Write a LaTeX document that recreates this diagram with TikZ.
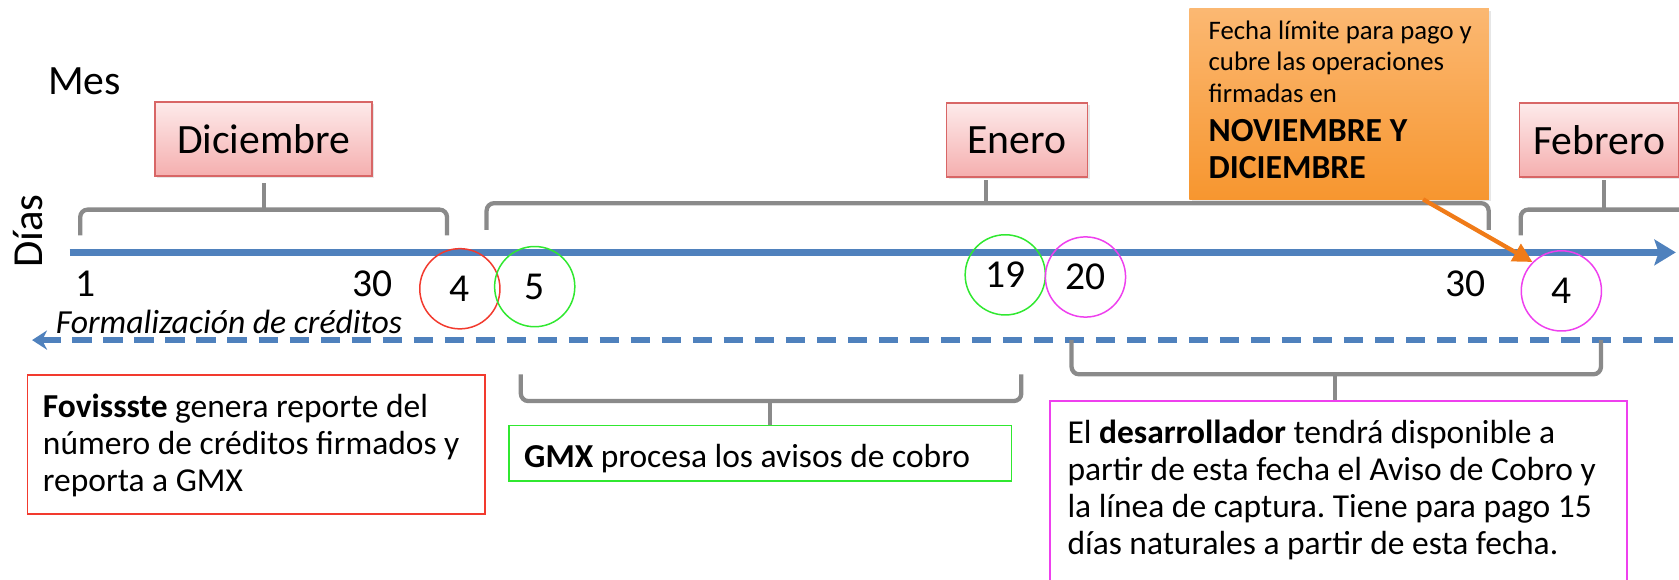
\documentclass[tikz,border=0pt]{standalone}
\usepackage{fontspec}
\setmainfont{Carlito}
\frenchspacing
\usetikzlibrary{arrows.meta,shadows,calc}
\definecolor{tlblue}{HTML}{4F81BD}
\definecolor{brgray}{HTML}{8A8A8A}
\definecolor{mborder}{HTML}{D86666}
\definecolor{mtop}{HTML}{FDEAEA}
\definecolor{mbot}{HTML}{F5AFAF}
\definecolor{otop}{HTML}{FBB872}
\definecolor{obot}{HTML}{F7962F}
\definecolor{oarrow}{HTML}{F07B18}
\definecolor{cred}{HTML}{F23A2E}
\definecolor{cgreen}{HTML}{30E830}
\definecolor{cmag}{HTML}{EE40EE}
\tikzset{
  monthbox/.style={draw=mborder, line width=1.5pt, top color=mtop, bottom color=mbot,
    font=\fontsize{39}{44}\selectfont, inner xsep=0pt, inner ysep=0pt, minimum height=69pt,
    drop shadow={opacity=0.2, shadow xshift=2pt, shadow yshift=-2pt}},
  bracket/.style={draw=brgray, line width=4pt, rounded corners=7pt},
  daylbl/.style={font=\fontsize{37}{40}\selectfont, inner sep=0pt},
  daycirc/.style={circle, line width=1.4pt, minimum size=75pt, inner sep=0pt, font=\fontsize{37}{40}\selectfont},
  framebox/.style={line width=1.5pt, anchor=north west, inner sep=0pt},
  bodytext/.style={align=left, anchor=north west, inner sep=0pt, font=\frenchspacing\fontsize{31.3}{34.5}\selectfont},
  mainline/.style={draw=tlblue, line width=7pt},
}
\begin{document}
\begin{tikzpicture}[x=1pt,y=-1pt]
\useasboundingbox (0,0) rectangle (1570,542);
% side labels
\node[font=\fontsize{39}{44}\selectfont, anchor=base west, inner sep=0pt] (mes) at (45,88) {Mes};
\node[font=\fontsize{40}{44}\selectfont, rotate=90, inner sep=0pt] (dias) at (26,216) {Días};
% month boxes
\node[monthbox, minimum width=203pt] (dic) at (246.5,130) {Diciembre};
\node[monthbox, minimum width=132pt] (ene) at (951,131) {Enero};
\node[monthbox, anchor=west, inner xsep=13pt] (feb) at (1420,131) {Febrero};
% orange note
\node[top color=otop, bottom color=obot, anchor=north west, minimum width=280pt, minimum height=178pt, inner sep=0pt,
  drop shadow={opacity=0.2, shadow xshift=2pt, shadow yshift=-2pt}] (obox) at (1112,8) {};
\node[anchor=north west, align=left, inner sep=0pt, font=\fontsize{25}{29.5}\selectfont] (otxt) at (1130,19) {Fecha límite para pago y\\cubre las operaciones\\firmadas en};
\node[anchor=north west, align=left, inner sep=0pt, font=\bfseries\fontsize{31.5}{35.5}\selectfont] (obold) at (1130,111) {NOVIEMBRE Y\\DICIEMBRE};
% top brackets
\draw[bracket] (75,220) -- (75,196) -- (418,196) -- (418,220);
\draw[bracket] (247,196) -- (247,171);
\draw[bracket] (455,215) -- (455,190) -- (1392,190) -- (1392,215);
\draw[bracket] (922,190) -- (922,168);
\draw[bracket] (1422,220) -- (1422,196) -- (1590,196);
\draw[bracket] (1500,196) -- (1500,168);
% main time line
\coordinate (ls) at (65,236);
\coordinate (le) at (1567,236);
\draw[mainline, -{Stealth[length=20pt,width=24pt,inset=4pt]}] (ls) -- (le);
% dashed line
\coordinate (ds) at (30,318);
\coordinate (de) at (1580,318);
\draw[draw=tlblue, line width=5pt, dash pattern=on 18pt off 11pt, {Stealth[length=14pt,width=18pt]}-] (ds) -- (de);
\node[font=\itshape\fontsize{31.5}{34}\selectfont, anchor=base west, inner sep=0pt] (form) at (52,312) {Formalización de créditos};
% day labels
\node[daylbl] (d1) at (80,265) {1};
\node[daylbl] (d30a) at (348,265) {30};
\node[daylbl] (d30b) at (1370,265) {30};
\node[daycirc, draw=cred] (c4a) at (430,270) {4};
\node[daycirc, draw=cgreen] (c5) at (500,268) {5};
\node[daycirc, draw=cgreen] (c19) at (940,257) {19};
\node[daycirc, draw=cmag] (c20) at (1015,259) {20};
\node[daycirc, draw=cmag] (c4b) at (1460,272) {4};
% orange arrow
\coordinate (oa) at ($(obox.south west)!0.78!(obox.south east)$);
\draw[oarrow, line width=4pt, -{Triangle[length=18pt,width=18pt]}] (oa) -- (c4b.135);
% bottom brackets
\draw[bracket] (487,350) -- (487,375) -- (955,375) -- (955,350);
\draw[bracket] (720,375) -- (720,397);
\draw[bracket] (1002,318) -- (1002,350) -- (1497,350) -- (1497,318);
\draw[bracket] (1248,350) -- (1248,375);
% info boxes
\node[framebox, draw=cred, minimum width=428pt, minimum height=130pt] (fovbox) at (25,350) {};
\node[bodytext] (fov) at ([xshift=15pt,yshift=-18pt]fovbox.north west) {\textbf{Fovissste} genera reporte del\\número de créditos firmados y\\reporta a GMX};
\node[framebox, draw=cgreen, minimum width=470pt, minimum height=52pt] (gmxbox) at (475,397) {};
\node[font=\fontsize{31.3}{36}\selectfont, anchor=base west, inner sep=0pt] (gmx) at (490,437) {\textbf{GMX} procesa los avisos de cobro};
\node[framebox, minimum width=538pt, minimum height=220pt] (desbox) at (982,375) {};
\draw[cmag, line width=1.5pt] (desbox.south west) -- (desbox.north west) -- (desbox.north east) -- (desbox.south east);
\node[bodytext] (des) at ([xshift=16pt,yshift=-18pt]desbox.north west) {El \textbf{desarrollador} tendrá disponible a\\partir de esta fecha el Aviso de Cobro y\\la línea de captura. Tiene para pago 15\\días naturales a partir de esta fecha.};
\end{tikzpicture}
\end{document}
